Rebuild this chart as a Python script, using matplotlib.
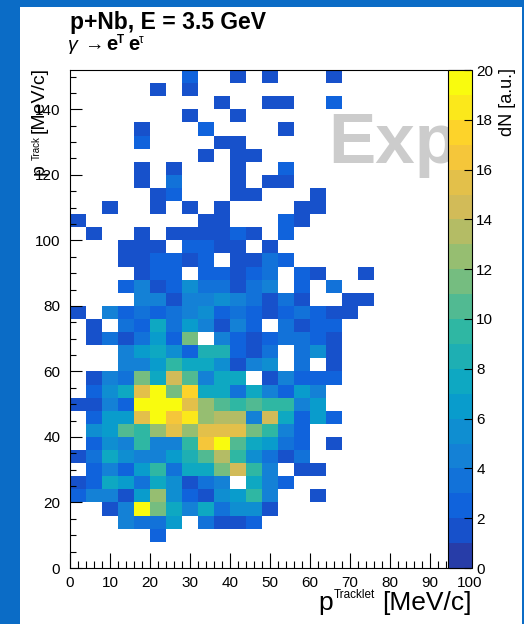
import numpy as np
import matplotlib
matplotlib.use('Agg')
import matplotlib.pyplot as plt
from matplotlib.colors import LinearSegmentedColormap, ListedColormap, BoundaryNorm
from matplotlib.patches import Rectangle

plt.rcParams['font.family'] = 'Liberation Sans'

# histogram definition: 25 x 38 bins of 4 MeV/c
bin_width = 4
x_max = 100
y_max = 152
z_max = 20

# cell contents, rows from top (p_track 148-152) down to bottom (0-4)
counts_rows = [
    [0,0,0,0,0,0,0,2,0,0,1,0,1,0,0,0,1,0,0,0,0,0,0,0,0],
    [0,0,0,0,0,1,0,1,0,0,0,0,0,0,0,0,0,0,0,0,0,0,0,0,0],
    [0,0,0,0,0,0,0,0,0,1,0,0,1,1,0,0,2,0,0,0,0,0,0,0,0],
    [0,0,0,0,0,0,0,1,0,0,1,0,0,0,0,0,0,0,0,0,0,0,0,0,0],
    [0,0,0,0,1,0,0,0,2,0,0,0,0,1,0,0,0,0,0,0,0,0,0,0,0],
    [0,0,0,0,2,0,0,0,0,1,1,0,0,0,0,0,0,0,0,0,0,0,0,0,0],
    [0,0,0,0,0,0,0,0,1,0,1,1,0,0,0,0,0,0,0,0,0,0,0,0,0],
    [0,0,0,0,1,0,1,0,0,0,1,0,0,2,0,0,0,0,0,0,0,0,0,0,0],
    [0,0,0,0,1,0,3,0,0,0,1,0,1,1,0,0,0,0,0,0,0,0,0,0,0],
    [0,0,0,0,0,1,2,0,0,0,1,1,0,0,0,1,0,0,0,0,0,0,0,0,0],
    [0,0,1,0,0,1,0,1,0,1,0,0,0,0,1,1,0,0,0,0,0,0,0,0,0],
    [1,0,0,0,0,0,0,0,1,1,0,0,0,2,1,0,0,0,0,0,0,0,0,0,0],
    [0,1,0,0,1,0,1,1,1,1,2,1,0,2,0,0,0,0,0,0,0,0,0,0,0],
    [0,0,0,1,1,1,0,2,2,1,1,0,1,0,0,0,0,0,0,0,0,0,0,0,0],
    [0,0,0,1,1,2,2,1,2,0,1,1,3,2,0,0,0,0,0,0,0,0,0,0,0],
    [0,0,0,0,1,2,2,0,2,2,1,2,3,0,2,1,0,0,1,0,0,0,0,0,0],
    [0,0,0,2,4,1,2,5,3,3,1,3,4,0,2,0,3,0,0,0,0,0,0,0,0],
    [0,0,0,0,4,4,1,4,4,5,4,3,1,3,1,0,0,1,1,0,0,0,0,0,0],
    [1,0,4,2,3,2,3,4,5,2,3,2,1,2,3,2,1,1,0,0,0,0,0,0,0],
    [0,1,0,3,2,7,3,6,4,1,4,2,0,3,1,2,2,0,0,0,0,0,0,0,0],
    [0,1,3,1,3,6,2,11,0,4,2,1,2,3,3,2,1,0,0,0,0,0,0,0,0],
    [0,0,0,4,6,7,5,2,8,8,2,1,3,0,3,5,1,0,0,0,0,0,0,0,0],
    [0,0,0,4,4,6,9,7,7,5,1,4,5,0,3,0,1,0,0,0,0,0,0,0,0],
    [0,1,4,3,11,7,14,10,4,7,7,0,1,4,2,2,2,0,0,0,0,0,0,0,0],
    [0,2,5,7,15,19,11,17,7,7,3,7,4,2,6,4,0,0,0,0,0,0,0,0,0],
    [1,1,4,2,19,19,19,15,12,10,9,10,9,9,4,6,0,0,0,0,0,0,0,0,0],
    [0,2,6,6,15,19,16,18,12,13,13,4,14,7,2,6,2,0,0,0,0,0,0,0,0],
    [0,5,6,10,9,12,15,12,15,15,15,11,9,4,2,0,0,0,0,0,0,0,0,0,0],
    [0,2,5,4,9,4,4,9,16,19,10,7,6,3,2,0,1,0,0,0,0,0,0,0,0],
    [1,3,7,5,4,4,6,8,10,13,9,5,3,1,3,0,0,0,0,0,0,0,0,0,0],
    [0,2,4,2,6,9,3,7,7,11,14,9,4,0,1,1,0,0,0,0,0,0,0,0,0],
    [1,2,7,6,3,7,5,1,3,4,0,7,4,2,0,0,0,0,0,0,0,0,0,0,0],
    [2,4,4,1,6,12,5,2,1,5,6,9,4,0,0,1,0,0,0,0,0,0,0,0,0],
    [0,0,1,4,19,11,7,4,7,3,5,5,1,0,0,0,0,0,0,0,0,0,0,0,0],
    [0,0,0,4,3,3,6,0,3,1,1,2,0,0,0,0,0,0,0,0,0,0,0,0,0],
    [0,0,0,0,0,2,0,0,0,0,0,0,0,0,0,0,0,0,0,0,0,0,0,0,0],
    [0,0,0,0,0,0,0,0,0,0,0,0,0,0,0,0,0,0,0,0,0,0,0,0,0],
    [0,0,0,0,0,0,0,0,0,0,0,0,0,0,0,0,0,0,0,0,0,0,0,0,0],
]
cbar_ticks = list(range(0, 21, 2))

counts = np.array(counts_rows[::-1], dtype=float)
counts = np.ma.masked_equal(counts, 0)
x_edges = np.arange(0, x_max + 1, bin_width)
y_edges = np.arange(0, y_max + 1, bin_width)

# ROOT kBird palette, 20 contour levels
stops = [0.0, 0.125, 0.25, 0.375, 0.5, 0.625, 0.75, 0.875, 1.0]
red = [0.2082, 0.0592, 0.0780, 0.0232, 0.1802, 0.5301, 0.8186, 0.9956, 0.9764]
green = [0.1664, 0.3599, 0.5041, 0.6419, 0.7178, 0.7492, 0.7328, 0.7862, 0.9832]
blue = [0.5293, 0.8684, 0.8385, 0.7914, 0.6425, 0.4662, 0.3499, 0.1968, 0.0539]
bird = LinearSegmentedColormap.from_list('bird', list(zip(stops, zip(red, green, blue))))
cmap = ListedColormap([bird((i + 1) / z_max) for i in range(z_max)])
norm = BoundaryNorm(np.arange(0, z_max + 1), cmap.N)

W, H = 524, 624
def fx(px):
    return px / W
def fy(py):
    return 1 - py / H

fig = plt.figure(figsize=(W / 100, H / 100), dpi=100)
fig.patch.set_facecolor('#0b6cc6')
fig.add_artist(Rectangle((fx(20), 0), 502 / W, (H - 7) / H, transform=fig.transFigure,
                         facecolor='white', edgecolor='none', zorder=-10))

ax = fig.add_axes([fx(70), fy(568), 400 / W, 498 / H])
mesh = ax.pcolormesh(x_edges, y_edges, counts, cmap=cmap, norm=norm)
ax.set_xlim(0, x_max)
ax.set_ylim(0, y_max)

ax.set_xticks(np.arange(0, 101, 10))
ax.set_xticks(np.arange(0, 101, 2), minor=True)
ax.set_yticks(np.arange(0, 141, 20))
ax.set_yticks(np.arange(0, y_max, 5), minor=True)
ax.tick_params(which='both', direction='in', top=False, right=False, width=0.8, labelsize=11)
ax.tick_params(axis='x', which='major', length=10.8, pad=6)
ax.tick_params(axis='x', which='minor', length=5)
ax.tick_params(axis='y', which='major', length=8.6, pad=7)
ax.tick_params(axis='y', which='minor', length=4.3)
for s in ax.spines.values():
    s.set_linewidth(0.8)

ax.text(64.5, 123.7, 'Exp', fontsize=51, fontweight='bold', color='#cccccc',
        ha='left', va='baseline')

cax = fig.add_axes([fx(448), fy(568), 24 / W, 498 / H])
cb = fig.colorbar(mesh, cax=cax, ticks=cbar_ticks)
cb.outline.set_linewidth(0.8)
cax.minorticks_off()
cax.tick_params(direction='in', length=6, width=0.8, labelsize=11, pad=3)

# header, first line
fig.text(fx(70), fy(29), 'p+Nb, E = 3.5 GeV', fontsize=16.5, fontweight='bold',
         ha='left', va='baseline')
# second line built piece by piece (ROOT TLatex look)
hkw = dict(ha='left', va='baseline')
fig.text(fx(68), fy(50), '\u03b3', fontsize=14, style='italic', **hkw)
fig.text(fx(84), fy(50), '\u2192', fontsize=14, **hkw)
fig.text(fx(106), fy(50), 'e', fontsize=14.5, fontweight='bold', **hkw)
fig.text(fx(117), fy(43), 'T', fontsize=8.5, fontweight='bold', **hkw)
fig.text(fx(128), fy(50), 'e', fontsize=14.5, fontweight='bold', **hkw)
fig.text(fx(139), fy(43), '\u03c4', fontsize=8.5, **hkw)

# y axis title, ROOT style: small superscript, right-aligned at the top
ykw = dict(rotation=90, rotation_mode='anchor', va='baseline')
fig.text(fx(44), fy(67), '[MeV/c]', fontsize=14, ha='right', **ykw)
fig.text(fx(40), fy(160), 'Track', fontsize=7, ha='left', **ykw)
fig.text(fx(44), fy(175), 'p', fontsize=14, ha='left', **ykw)

# x axis title
fig.text(fx(472), fy(610), '[MeV/c]', fontsize=19, ha='right', va='baseline')
fig.text(fx(334), fy(598), 'Tracklet', fontsize=8.5, ha='left', va='baseline')
fig.text(fx(318), fy(610), 'p', fontsize=19, ha='left', va='baseline')

# palette title
fig.text(fx(507), fy(68), 'dN [a.u.]', fontsize=13, rotation=90, ha='center', va='top')

fig.savefig('out.png', dpi=100)
